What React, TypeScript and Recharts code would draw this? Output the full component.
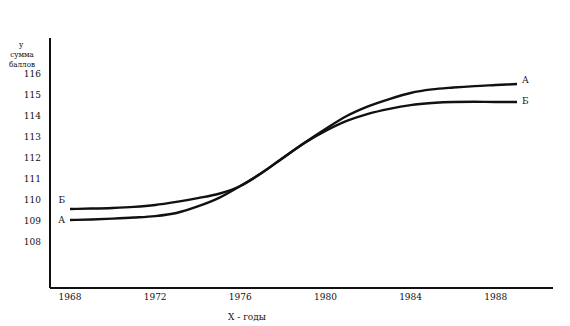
import { LineChart, Line, XAxis, YAxis, Label } from "recharts";

const years = [
  1968, 1969, 1970, 1971, 1972, 1973, 1974, 1975, 1976, 1977, 1978,
  1979, 1980, 1981, 1982, 1983, 1984, 1985, 1986, 1987, 1988, 1989,
];

const seriesA = [
  109.0, 109.03, 109.07, 109.12, 109.19, 109.34, 109.65, 110.06, 110.63, 111.25, 111.97,
  112.69, 113.36, 113.98, 114.44, 114.79, 115.08, 115.25, 115.34, 115.41, 115.46, 115.51,
];

const seriesB = [
  109.53, 109.55, 109.58, 109.63, 109.72, 109.87, 110.05, 110.26, 110.63, 111.25, 111.97,
  112.67, 113.26, 113.74, 114.08, 114.32, 114.5, 114.6, 114.65, 114.66, 114.65, 114.65,
];

const xTicks = [1968, 1972, 1976, 1980, 1984, 1988];
const yTicks = [108, 109, 110, 111, 112, 113, 114, 115, 116];

const data = years.map((year, i) => ({ year, A: seriesA[i], B: seriesB[i] }));

const font = "'DejaVu Serif Condensed', 'Liberation Serif', serif";
const tickStyle = { fill: "#111", fontSize: 10, fontFamily: font };
const titleStyle = { fill: "#111", fontSize: 8, fontFamily: font };

// end labels: left side at the first point, right side at the last point
function endLabel(name: string, leftDy: number, rightDy: number) {
  return (props: any) => {
    const { index, x, y } = props;
    if (index === 0) {
      return (
        <text x={x - 5} y={y + leftDy} textAnchor="end" dominantBaseline="middle" style={tickStyle}>
          {name}
        </text>
      );
    }
    if (index === years.length - 1) {
      return (
        <text x={x + 5} y={y + rightDy} textAnchor="start" dominantBaseline="middle" style={tickStyle}>
          {name}
        </text>
      );
    }
    return null;
  };
}

export default function App() {
  return (
    <div style={{ position: "fixed", top: 0, left: 0, width: 570, height: 326, background: "#fff" }}>
      <LineChart
        width={570}
        height={326}
        data={data}
        margin={{ top: 38, right: 17, left: 0, bottom: 8 }}
      >
        <XAxis
          dataKey="year"
          type="number"
          domain={[1967.06, 1990.69]}
          ticks={xTicks}
          allowDataOverflow
          height={30}
          tickLine={false}
          tickSize={0}
          tickMargin={5}
          axisLine={{ stroke: "#111", strokeWidth: 2 }}
          tick={tickStyle}
        >
          <Label
            content={() => (
              <text x={247} y={320} textAnchor="middle" style={tickStyle}>
                X - годы
              </text>
            )}
          />
        </XAxis>
        <YAxis
          type="number"
          domain={[105.75, 117.71]}
          ticks={yTicks}
          allowDataOverflow
          width={50}
          tickLine={false}
          tickSize={0}
          tickMargin={9}
          axisLine={{ stroke: "#111", strokeWidth: 2 }}
          tick={tickStyle}
        >
          <Label
            content={() => (
              <g style={titleStyle}>
                <text x={21} y={47} textAnchor="middle">у</text>
                <text x={22} y={57} textAnchor="middle">сумма</text>
                <text x={22} y={67} textAnchor="middle">баллов</text>
              </g>
            )}
          />
        </YAxis>
        <Line
          type="monotone"
          dataKey="B"
          stroke="#111"
          strokeWidth={2.4}
          dot={false}
          isAnimationActive={false}
          label={endLabel("Б", -8, 0)}
        />
        <Line
          type="monotone"
          dataKey="A"
          stroke="#111"
          strokeWidth={2.4}
          dot={false}
          isAnimationActive={false}
          label={endLabel("А", 0, -3)}
        />
      </LineChart>
    </div>
  );
}
